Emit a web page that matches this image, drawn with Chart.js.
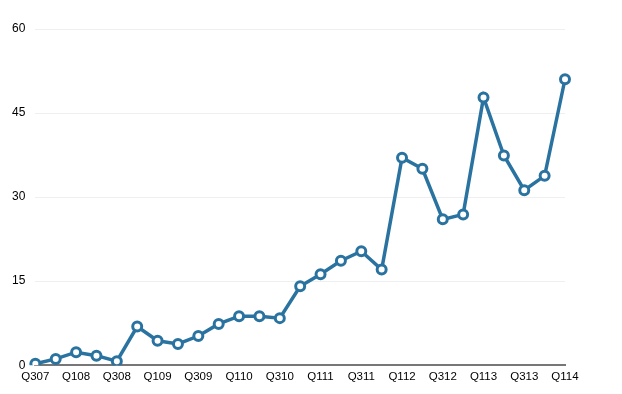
<!DOCTYPE html>
<html>
<head>
<meta charset="utf-8">
<script src="https://cdn.jsdelivr.net/npm/chart.js@4.4.1/dist/chart.umd.min.js"></script>
<style>
    html, body { margin: 0; padding: 0; background: #fff; }
    #wrap { width: 622px; height: 394px; }
</style>
</head>
<body>
<div id="wrap"><canvas id="chartSales"></canvas></div>
<script>
const quarters = [
    "Q307", "Q407",
    "Q108", "Q208", "Q308", "Q408",
    "Q109", "Q209", "Q309", "Q409",
    "Q110", "Q210", "Q310", "Q410",
    "Q111", "Q211", "Q311", "Q411",
    "Q112", "Q212", "Q312", "Q412",
    "Q113", "Q213", "Q313", "Q413",
    "Q114"
];
const units = [
    0.27, 1.12,
    2.32, 1.70, 0.72, 6.89,
    4.36, 3.79, 5.21, 7.37,
    8.74, 8.75, 8.40, 14.10,
    16.24, 18.65, 20.34, 17.07,
    37.04, 35.06, 26.03, 26.91,
    47.79, 37.43, 31.24, 33.80,
    51.03
];
const yTicks = [0, 15, 30, 45, 60];

const lineColor = "#2a73a1";

const ctx = document.getElementById('chartSales').getContext('2d');
new Chart(ctx, {
    type: "line",
    data: {
        labels: quarters,
        datasets: [{
            data: units,
            borderColor: lineColor,
            borderWidth: 3.5,
            backgroundColor: "#fff",
            pointBackgroundColor: "#fff",
            pointBorderColor: lineColor,
            pointBorderWidth: 3,
            pointRadius: 4.5,
            tension: 0,
            fill: false,
        }]
    },
    options: {
        responsive: true,
        maintainAspectRatio: false,
        animation: false,
        layout: {
            padding: {left: 2, right: 57, top: 29, bottom: 5}
        },
        plugins: {
            legend: {display: false},
            tooltip: {enabled: false},
        },
        scales: {
            x: {
                offset: false,
                grid: {display: false, drawTicks: false},
                border: {display: true, color: "#777", width: 2},
                ticks: {
                    autoSkip: false,
                    maxRotation: 0,
                    padding: 5,
                    color: "#000",
                    font: {family: "'Liberation Sans', Arial, sans-serif", size: 11.5},
                    callback: (value, index) => index % 2 === 0 ? quarters[index] : "",
                },
            },
            y: {
                min: 0,
                max: 60,
                afterBuildTicks: (axis) => {
                    axis.ticks = yTicks.map((v) => ({value: v}));
                },
                grid: {color: "#efefef", lineWidth: 1, drawTicks: false},
                border: {display: false},
                ticks: {
                    padding: 10,
                    color: "#000",
                    font: {family: "'Liberation Sans', Arial, sans-serif", size: 12},
                },
            },
        },
    },
});
</script>
</body>
</html>
